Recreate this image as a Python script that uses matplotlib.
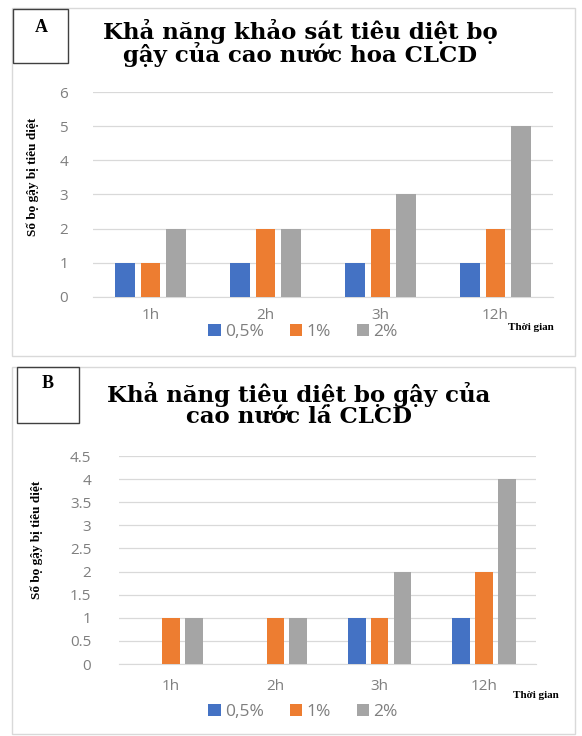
import matplotlib
matplotlib.use("Agg")
import matplotlib.pyplot as plt
import matplotlib.patches as mpatches
import numpy as np

categories = ["1h", "2h", "3h", "12h"]
series = ["0,5%", "1%", "2%"]
colors = ["#4472C4", "#ED7D31", "#A5A5A5"]

a_05 = [1, 1, 1, 1]
a_1 = [1, 2, 2, 2]
a_2 = [2, 2, 3, 5]

b_05 = [0, 0, 1, 1]
b_1 = [1, 1, 1, 2]
b_2 = [1, 1, 2, 4]

title_a = "Khả năng khảo sát tiêu diệt bọ\ngậy của cao nước hoa CLCD"
title_b = "Khả năng tiêu diệt bọ gậy của\ncao nước lá CLCD"
ylabel = "Số bọ gậy bị tiêu diệt"
xlabel = "Thời gian"

W, H = 582, 736
fig = plt.figure(figsize=(W / 100, H / 100), dpi=100)

def fx(px):
    return px / W

def fy(py):
    return 1 - py / H

serif = "Liberation Serif"
wide_serif = "DejaVu Serif"
tickfont = "Open Sans"

def box(x0, y0, x1, y1, color, lw):
    r = mpatches.Rectangle((fx(x0), fy(y1)), fx(x1) - fx(x0), fy(y0) - fy(y1),
                           transform=fig.transFigure, fill=False,
                           edgecolor=color, linewidth=lw)
    fig.add_artist(r)

def panel(rect, vals, ymax, ystep, width, offset):
    ax = fig.add_axes(rect)
    x = np.arange(len(categories))
    for i, (v, c) in enumerate(zip(vals, colors)):
        ax.bar(x + (i - 1) * offset, v, width, color=c, label=series[i], zorder=3)
    ax.set_xlim(-0.5, len(categories) - 0.5)
    ax.set_ylim(0, ymax)
    ax.set_yticks(np.arange(0, ymax + 1e-9, ystep))
    ax.yaxis.set_major_formatter(matplotlib.ticker.FuncFormatter(lambda v, p: f"{v:g}"))
    ax.set_xticks(x)
    ax.set_xticklabels(categories)
    ax.grid(axis="y", color="#D9D9D9", linewidth=0.9, zorder=0)
    for s in ["top", "right", "left"]:
        ax.spines[s].set_visible(False)
    ax.spines["bottom"].set_color("#D9D9D9")
    ax.tick_params(axis="both", length=0, colors="#7F7F7F", labelsize=11)
    for lab in ax.get_xticklabels() + ax.get_yticklabels():
        lab.set_fontfamily(tickfont)
    return ax

# Panel A
axA = panel([fx(93), fy(297), fx(553) - fx(93), fy(92) - fy(297)],
            [a_05, a_1, a_2], 6, 1, 0.17, 0.22)
axA.tick_params(axis="y", pad=18)
axA.tick_params(axis="x", pad=8)
# Panel B
axB = panel([fx(119), fy(664), fx(536) - fx(119), fy(456) - fy(664)],
            [b_05, b_1, b_2], 4.5, 0.5, 0.17, 0.22)
axB.tick_params(axis="y", pad=20)
axB.tick_params(axis="x", pad=11)

# boxes
box(12, 8, 575, 356, "#D9D9D9", 1.0)
box(12, 367, 575, 734, "#D9D9D9", 1.0)
box(13, 9, 68, 63, "#404040", 1.0)
box(17, 367, 79, 423, "#404040", 1.0)

fig.text(fx(41), fy(27), "A", family=serif, weight="bold", fontsize=13, ha="center", va="center")
fig.text(fx(48), fy(384), "B", family=serif, weight="bold", fontsize=13, ha="center", va="center")

fig.text(fx(300), fy(43), title_a, family=wide_serif, weight="bold", fontsize=16.5,
         ha="center", va="center", linespacing=0.93)
fig.text(fx(299), fy(405), title_b, family=wide_serif, weight="bold", fontsize=16.5,
         ha="center", va="center", linespacing=0.93)

fig.text(fx(33), fy(177), ylabel, family=serif, weight="bold", fontsize=9.5,
         rotation=90, ha="center", va="center")
fig.text(fx(37), fy(540), ylabel, family=serif, weight="bold", fontsize=9.5,
         rotation=90, ha="center", va="center")

fig.text(fx(531), fy(328), xlabel, family=serif, weight="bold", fontsize=8,
         ha="center", va="center")
fig.text(fx(536), fy(695), xlabel, family=serif, weight="bold", fontsize=8,
         ha="center", va="center")

for ax, ypos in [(axA, 332), (axB, 712)]:
    h, l = ax.get_legend_handles_labels()
    leg = fig.legend(h, l, loc="center", bbox_to_anchor=(fx(303), fy(ypos)),
                     ncol=3, frameon=False, handlelength=0.7, handleheight=0.7,
                     handletextpad=0.25, columnspacing=1.5,
                     prop={"family": tickfont, "size": 12.5})
    for t in leg.get_texts():
        t.set_color("#7F7F7F")

fig.savefig("out.png", dpi=100)
